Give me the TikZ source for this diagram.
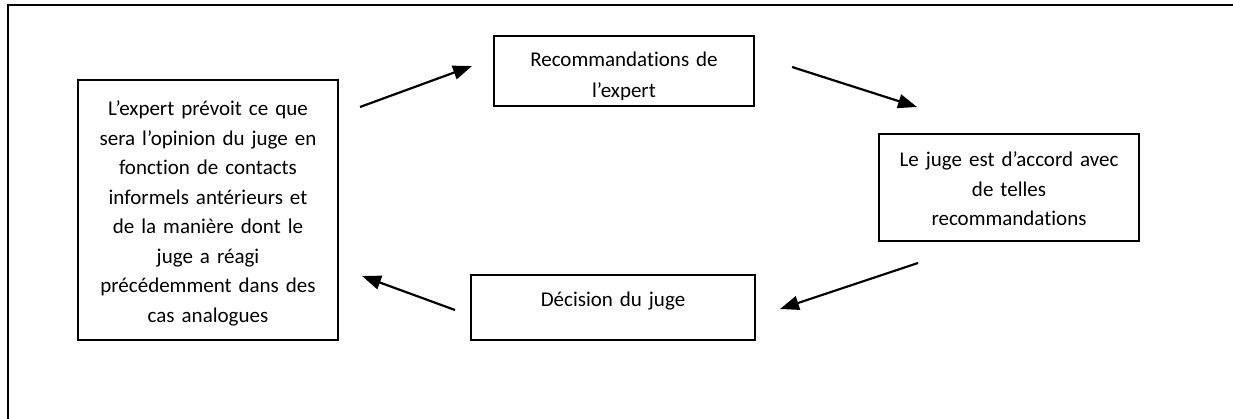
\documentclass[tikz,border=0pt]{standalone}
\usepackage{fontspec}
\setmainfont{Carlito}[Ligatures=NoCommon, RawFeature={-liga;-clig;-dlig;-calt}]
\usetikzlibrary{arrows.meta}
\begin{document}
\begin{tikzpicture}[x=1pt,y=-1pt,
  txtfont/.style={font=\fontsize{21}{29.5}\selectfont},
  box/.style={draw, line width=1.6pt, inner sep=0pt, align=center, txtfont, text height=15pt},
  txt/.style={inner sep=0pt, align=center, txtfont},
  arr/.style={line width=2.2pt, -{Triangle[length=19pt,width=14pt]}},
  frame/.style={line width=2pt}]
\useasboundingbox (0,0) rectangle (1233,419);
\draw[frame] (8,5) rectangle (1240,430);

% left box
\node[box, minimum width=260pt, minimum height=260pt, text width=250pt, text depth=203pt] (expert) at (208,210)
  {L’expert prévoit ce que\\ sera l’opinion du juge en\\ fonction de contacts\\ informels antérieurs et\\ de la manière dont le\\ juge a réagi\\ précédemment dans des\\ cas analogues};

% top box
\node[draw, line width=1.6pt, inner sep=0pt, minimum width=260pt, minimum height=70pt] (rec) at (624,71) {};
\begin{scope}
  \clip (rec.north west) rectangle ([yshift=7pt]rec.south east);
  \node[txt, text width=250pt, anchor=base, font=\fontsize{21}{31}\selectfont] (rectext) at (624,67) {Recommandations de\\ l’expert};
\end{scope}

% right box
\node[box, minimum width=260pt, minimum height=107pt, text width=250pt, text depth=56pt] (accord) at (1009,187.5)
  {Le juge est d’accord avec\\ de telles\\ recommandations};

% bottom box
\node[box, minimum width=284pt, minimum height=65pt, text width=270pt, text depth=18pt] (decision) at (613,307.5)
  {Décision du juge};

% arrows
\coordinate (a1s) at (360,107); \coordinate (a1e) at (472,66);
\coordinate (a2s) at (792,67);  \coordinate (a2e) at (917,107);
\coordinate (a3s) at (918,263); \coordinate (a3e) at (780,309);
\coordinate (a4s) at (455,310); \coordinate (a4e) at (362,276);
\draw[arr] (a1s) -- (a1e);
\draw[arr] (a2s) -- (a2e);
\draw[arr] (a3s) -- (a3e);
\draw[arr] (a4s) -- (a4e);
\end{tikzpicture}
\end{document}
